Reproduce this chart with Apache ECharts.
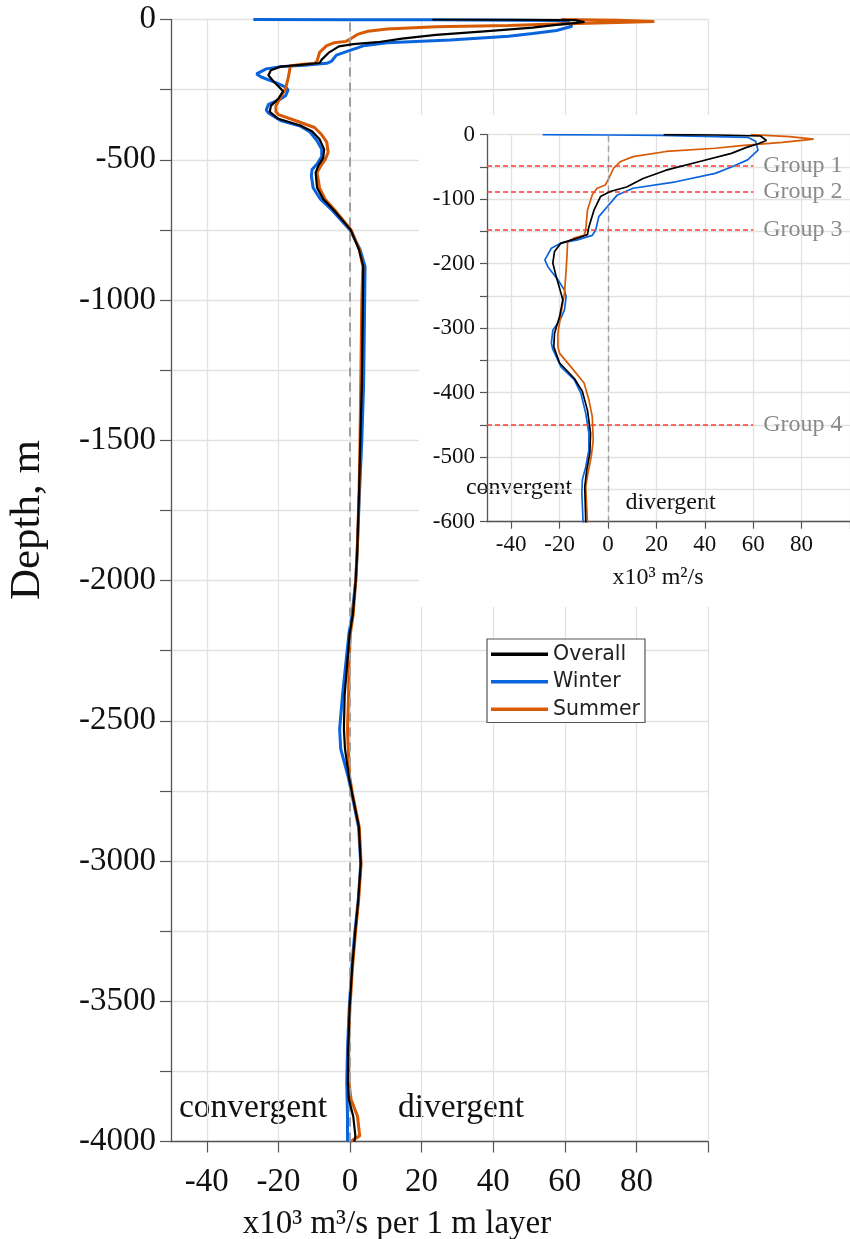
<!DOCTYPE html>
<html><head><meta charset="utf-8">
<script src="https://cdn.jsdelivr.net/npm/echarts@6/dist/echarts.min.js"></script>
<style>
html,body{margin:0;padding:0;background:#fff}
#main{position:absolute;left:0;top:0;width:850px;height:1239px}
#inset{position:absolute;left:419px;top:115px;width:431px;height:492px;background:#fff}
</style></head>
<body><div id="main"></div><div id="inset"></div>
<script>
// ---- data (depth in m, flux in x10^3) ----
const overallDepth = [0,-0.5,-2,-9,-14,-20,-29,-42,-55,-68,-81,-88,-96,-117,-143,-155,-162,-168,-181,-199,-220,-246,-256,-282,-308,-329,-354,-378,-398,-427,-463,-494,-520,-546,-600,-640,-680,-750,-820,-880,-1000,-1300,-1500,-1700,-1900,-2000,-2120,-2190,-2300,-2410,-2530,-2600,-2700,-2760,-2880,-3010,-3140,-3260,-3380,-3520,-3670,-3790,-3850,-3910,-3980,-4000];
const overallFlux  = [23,45,63,65.5,62,57,51,37.5,24,14.5,7.7,0.9,-3.1,-5.8,-7.9,-8.5,-13.9,-19.4,-22.1,-22.8,-21.4,-19.4,-18.7,-20,-22.1,-22.4,-20,-13.9,-10.6,-8.5,-7.2,-7.5,-8.8,-9.6,-9.2,-7.5,-4.5,0.2,2.5,3.7,3.6,3.3,2.9,2.5,2,1.6,0.8,-0.1,-0.8,-1.5,-1.7,-1.4,-0.3,0.6,2.5,3,2.3,1.4,0.6,-0.1,-0.5,-0.6,-0.3,0.9,1.5,1.2];

const winterDepth = [0,-0.5,-1,-4,-10,-24,-39,-50,-60,-73,-83,-94,-112,-127,-148,-156,-163,-168,-176,-194,-205,-225,-241,-251,-272,-287,-303,-323,-333,-360,-380,-401,-432,-463,-489,-515,-535,-556,-600,-640,-680,-750,-820,-880,-1000,-1300,-1500,-1700,-1900,-2000,-2120,-2190,-2300,-2410,-2530,-2600,-2700,-2760,-2880,-3010,-3140,-3260,-3380,-3520,-3670,-3790,-3850,-3910,-4000];
const winterFlux  = [-27,0,22,57.7,61,62,57.7,51,44.3,28,10.4,3.7,-0.4,-3.8,-5.1,-6.5,-12.6,-19.4,-23.4,-26.1,-24.8,-20.7,-18,-17.3,-18,-19.8,-22.8,-23.4,-22.8,-19.4,-13.9,-11.2,-9.2,-7.9,-7.9,-9.2,-10.6,-10.8,-10.3,-8.3,-5,0,2.8,4.2,4.1,3.8,3.3,2.6,2,1.6,0.6,-0.3,-1.2,-2.1,-2.9,-2.6,-0.5,0.5,2.4,3,2.3,1.3,0.5,-0.2,-0.7,-0.9,-0.8,-0.7,-0.7];

const summerDepth = [0,-3,-7,-12,-17,-21,-26,-34,-42,-52,-68,-78,-83,-93,-117,-148,-156,-160,-166,-184,-210,-246,-277,-308,-329,-339,-360,-385,-411,-437,-473,-499,-525,-546,-600,-640,-680,-750,-820,-880,-1000,-1300,-1500,-1700,-1900,-2000,-2120,-2190,-2300,-2410,-2530,-2600,-2700,-2760,-2880,-3010,-3140,-3260,-3380,-3520,-3670,-3790,-3850,-3910,-3980,-4000];
const summerFlux  = [59,75,85,72,55,44.3,24,10.4,5,2.3,0.3,-1.1,-4.5,-6.5,-8.5,-9.2,-9.9,-13.9,-16.7,-16.9,-17.3,-18,-19.4,-20.7,-20.7,-20,-15.3,-9.9,-7.9,-6.5,-6.1,-6.9,-8.3,-9.2,-8.5,-7,-4.2,0.3,2.6,3.6,3.3,3,2.8,2.5,2,1.6,0.9,0.1,-0.3,-0.4,-0.7,-0.5,-0.1,0.7,2.6,3.1,2.4,1.5,0.7,0,-0.5,-0.3,0.3,2.1,2.7,0.2];

const xTickValues = [-40,-20,0,20,40,60,80,100];
const xLabelValues = [-40,-20,0,20,40,60,80];
const groupNames = ['Group 1','Group 2','Group 3','Group 4'];
const groupDepths = [-48,-88,-147,-450];
const seriesNames = ['Overall','Winter','Summer'];

// ---- styling ----
const SERIF = 'Liberation Serif';
const COLORS = {Overall:'#000000', Winter:'#0a64dc', Summer:'#d75a05'};
const pairs = (d, v) => d.map((y, i) => [v[i], y]);
const dataMap = {
  Overall: pairs(overallDepth, overallFlux),
  Winter: pairs(winterDepth, winterFlux),
  Summer: pairs(summerDepth, summerFlux)
};
const drawOrder = ['Winter','Summer','Overall'];

function xAxisCfg(fs, margin, tickLen){
  return {
    type:'value', min:-50, max:100,
    axisLine:{show:true, onZero:false, lineStyle:{color:'#555', width:1.3}},
    axisTick:{show:true, customValues:xTickValues, length:tickLen, lineStyle:{color:'#555', width:1.2}},
    axisLabel:{customValues:xLabelValues, fontFamily:SERIF, fontSize:fs, color:'#111', margin:margin},
    splitLine:{show:true, lineStyle:{color:'#e2e2e2', width:1.3}}
  };
}
function yAxisCfg(min, interval, labelStep, fs, margin, tickLen){
  return {
    type:'value', min:min, max:0, interval:interval,
    axisLine:{show:true, onZero:false, lineStyle:{color:'#555', width:1.3}},
    axisTick:{show:true, length:tickLen, lineStyle:{color:'#555', width:1.2}},
    axisLabel:{fontFamily:SERIF, fontSize:fs, color:'#111', margin:margin,
      formatter: v => (v % labelStep === 0 ? String(v) : '')},
    splitLine:{show:true, lineStyle:{color:'#e2e2e2', width:1.3}}
  };
}

// ---- main chart ----
const main = echarts.init(document.getElementById('main'), null, {renderer:'canvas'});
const mainSeries = drawOrder.map((name, i) => ({
  name:name, type:'line', data:dataMap[name], symbol:'none', showSymbol:false,
  lineStyle:{color:COLORS[name], width: name==='Overall' ? 2.2 : 3},
  itemStyle:{color:COLORS[name]},
  z: 3 + i,
  markLine: i === 0 ? {
    silent:true, symbol:'none', label:{show:false},
    lineStyle:{color:'#a0a0a0', type:[9,6], width:2},
    data:[{xAxis:0}]
  } : undefined
}));
main.setOption({
  animation:false,
  backgroundColor:'#fff',
  grid:{left:171, top:19.5, width:537, height:1122},
  xAxis: xAxisCfg(33, 24, 11),
  yAxis: yAxisCfg(-4000, 250, 500, 33, 15, 11),
  legend:{
    data:seriesNames, orient:'vertical', left:487, top:639,
    padding:[4,5,2,4], itemWidth:57, itemHeight:3.5, itemGap:5, icon:'rect',
    borderColor:'#555', borderWidth:1.2, backgroundColor:'#fff',
    textStyle:{fontFamily:'DejaVu Sans', fontSize:20.5, color:'#222', lineHeight:22.5}
  },
  graphic:[
    {type:'text', x:28, y:520, rotation:Math.PI/2,
     style:{text:'Depth, m', font:'43px "Liberation Serif"', fill:'#111', textAlign:'center', textVerticalAlign:'middle'}},
    {type:'text', x:397, y:1224,
     style:{text:'x10³ m³/s per 1 m layer', font:'33px "Liberation Serif"', fill:'#111', textAlign:'center', textVerticalAlign:'middle'}},
    {type:'text', x:253, y:1108,
     style:{text:'convergent', font:'33.5px "Liberation Serif"', fill:'#111', textAlign:'center', textVerticalAlign:'middle'}},
    {type:'text', x:461, y:1108,
     style:{text:'divergent', font:'33.5px "Liberation Serif"', fill:'#111', textAlign:'center', textVerticalAlign:'middle'}}
  ],
  series: mainSeries
});

// ---- inset chart ----
const inset = echarts.init(document.getElementById('inset'), null, {renderer:'canvas'});
const insetSeries = drawOrder.map((name, i) => {
  const s = {
    name:name, type:'line', data:dataMap[name], symbol:'none', showSymbol:false, clip:true,
    lineStyle:{color:COLORS[name], width:1.7},
    itemStyle:{color:COLORS[name]}, z:3 + i
  };
  if (name === 'Winter') {
    s.markLine = {silent:true, symbol:'none', label:{show:false},
      lineStyle:{color:'#a0a0a0', type:[6,4], width:1.4}, data:[{xAxis:0}]};
  }
  if (name === 'Overall') {
    s.markLine = {silent:true, symbol:'none',
      lineStyle:{color:'#ff3b30', type:[5,3], width:1.5},
      label:{show:true, position:'end', distance:10, formatter:'{b}', color:'#8a8a8a',
        fontFamily:SERIF, fontSize:24},
      data: groupDepths.map((d, k) => [{coord:[-50, d], name:groupNames[k]}, {coord:[60, d]}])};
  }
  return s;
});
inset.setOption({
  animation:false,
  backgroundColor:'#fff',
  grid:{left:68, top:19.7, width:369, height:387},
  xAxis: xAxisCfg(23, 12, 7),
  yAxis: yAxisCfg(-600, 50, 100, 23, 12, 7),
  graphic:[
    {type:'text', x:239, y:463,
     style:{text:'x10³ m²/s', font:'24px "Liberation Serif"', fill:'#111', textAlign:'center', textVerticalAlign:'middle'}},
    {type:'text', x:100, y:373,
     style:{text:'convergent', font:'24px "Liberation Serif"', fill:'#111', textAlign:'center', textVerticalAlign:'middle'}},
    {type:'text', x:251.5, y:387.7,
     style:{text:'divergent', font:'24px "Liberation Serif"', fill:'#111', textAlign:'center', textVerticalAlign:'middle'}}
  ],
  series: insetSeries
});
</script></body></html>
